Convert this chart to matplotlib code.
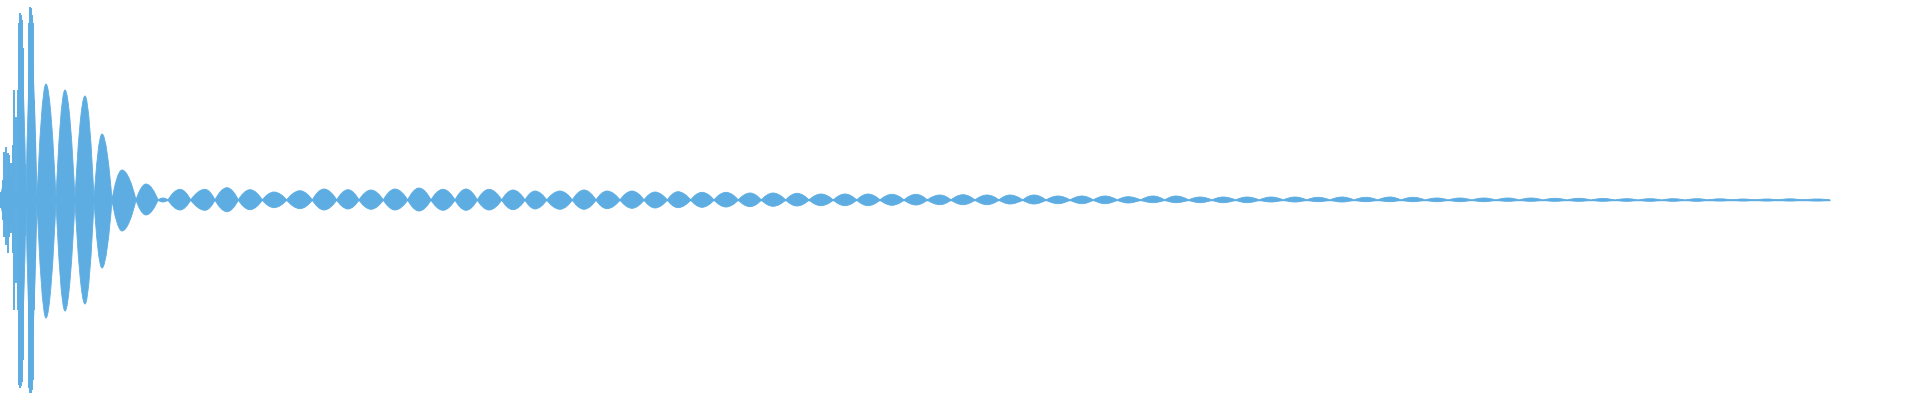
import numpy as np
import matplotlib
matplotlib.use("Agg")
import matplotlib.pyplot as plt
from matplotlib.path import Path
from matplotlib.patches import PathPatch

# envelope of the waveform
# each lobe: left null, peak position, right null, upper and lower peak amplitude
lobe_start = [0, 17, 26, 37, 56, 75, 94, 112, 136, 158, 168, 190.7, 215, 238.3, 262.3,
              286.7, 312.3, 336.7, 359, 383.3, 407.7, 431, 455, 477.3, 501.7, 525,
              546.7, 572.3, 596, 620, 644, 667.3, 690.7, 714, 738.3, 761.3, 785.7,
              809, 833.3, 856.7, 880, 904, 927.3, 951, 975, 999, 1022.7, 1046, 1070,
              1093.3, 1117.3, 1140.7, 1164.7, 1188.7, 1212, 1235.7, 1259.3, 1283.3,
              1306.7, 1330, 1354, 1377.7, 1401, 1425, 1448.3, 1471.7, 1495.7, 1519.3,
              1543, 1567, 1591, 1615, 1638, 1662, 1685, 1708, 1732, 1755, 1778, 1802]
lobe_peak = [8, 21, 31, 46, 65, 85, 102, 122, 146, 163, 180, 205, 227, 250, 274,
             300, 324, 348, 371, 395, 419, 443, 466, 489, 513, 535,
             560, 584, 607, 632, 655, 678, 702, 726, 750, 773, 797,
             821, 845, 868, 892, 916, 940, 963, 987, 1010, 1034, 1058, 1082,
             1105, 1128, 1153, 1176, 1200, 1223, 1247, 1271, 1295,
             1318, 1342, 1366, 1390, 1413, 1437, 1460, 1484, 1508, 1531,
             1555, 1579, 1603, 1627, 1650, 1673, 1697, 1720, 1743, 1767, 1790, 1818]
lobe_end = lobe_start[1:] + [1830]
amp_top = [26, 150, 150, 116, 110, 104, 66, 30, 16, 2, 10.7, 10.7, 12.3, 10.3, 8,
           9.3, 11, 10.3, 10, 11, 12, 10.7, 11, 10.7, 10, 9,
           9, 10, 9, 9, 8, 8.3, 7.7, 7.7, 7, 7, 6.7,
           6, 6, 6, 5.7, 5.7, 5, 5.3, 5, 5, 5, 4, 4,
           4, 3.3, 4, 4, 3, 3, 3, 3, 3,
           2.7, 3, 2.7, 3, 2.7, 2, 2, 2, 2, 2,
           1.7, 1.7, 1.5, 1.3, 1.3, 1.3, 1.3, 1.2, 1, 1, 1.2, 1]
amp_bottom = [26, 150, 150, 118, 111, 104, 68, 31, 15, 2, 10, 10.3, 11.7, 9.7, 7.7,
              8.7, 10, 9, 9.3, 10, 11, 10.3, 10.3, 10, 9.7, 9,
              9.3, 9.3, 8.7, 8.3, 8, 7.7, 7.3, 7, 6.7, 6.3, 6,
              5.7, 5.7, 5.7, 5.3, 5, 4.7, 4.7, 4.7, 4, 4, 3.7, 3.7,
              3.7, 3, 2.7, 2.7, 2.7, 2.7, 2.7, 2, 2,
              1.7, 2, 1.7, 1.7, 1.7, 1.7, 1.7, 1.7, 1.3, 1.3,
              1.3, 1.3, 1.3, 1.3, 1.3, 1.3, 1.3, 1, 1, 1, 1, 1]

# sharp transient spikes and the two tall columns at the very start
spike_x = [1, 2.5, 4, 6, 7.5, 9, 11, 12.5, 14, 16, 17.5,
           19, 20, 21, 22, 23, 24.5,
           29, 30, 31, 32, 33, 34, 35]
spike_top = [8, 20, 48, 53, 47, 45, 37, 55, 110, 83, 110,
             177, 187, 185, 180, 152, 36,
             177, 193, 192, 185, 177, 100, 60]
spike_bottom = [8, 20, 37, 45, 53, 37, 33, 53, 110, 83, 110,
                185, 188, 186, 182, 160, 36,
                188, 193, 193, 190, 180, 110, 60]

color = "#5DADE2"

fig = plt.figure(figsize=(19.2, 4), dpi=100)
ax = fig.add_axes([0, 0, 1, 1])
ax.set_xlim(0, 1920)
ax.set_ylim(-200, 200)
ax.axis("off")

# build each lobe as a smooth closed bezier outline (lemon-like shape)
verts, codes = [], []
rise, lead, tail = 0.5, 0.25, 0.36
for x0, xp, x1, up, dn in zip(lobe_start, lobe_peak, lobe_end, amp_top, amp_bottom):
    d1, d2 = xp - x0, x1 - xp
    verts += [(x0, 0),
              (x0 + d1 * lead, up * rise), (xp - d1 * tail, up), (xp, up),
              (xp + d2 * tail, up), (x1 - d2 * lead, up * rise), (x1, 0),
              (x1 - d2 * lead, -dn * rise), (xp + d2 * tail, -dn), (xp, -dn),
              (xp - d1 * tail, -dn), (x0 + d1 * lead, -dn * rise), (x0, 0),
              (x0, 0)]
    codes += [Path.MOVETO] + [Path.CURVE4] * 12 + [Path.CLOSEPOLY]

ax.add_patch(PathPatch(Path(verts, codes), facecolor=color, edgecolor=color, linewidth=0.6))
ax.vlines(spike_x, [-b for b in spike_bottom], spike_top, color=color, linewidth=1.4)
ax.hlines(0, lobe_start[0], lobe_end[-1], color=color, linewidth=1.0)

fig.savefig("out.png", dpi=100, facecolor="white")
